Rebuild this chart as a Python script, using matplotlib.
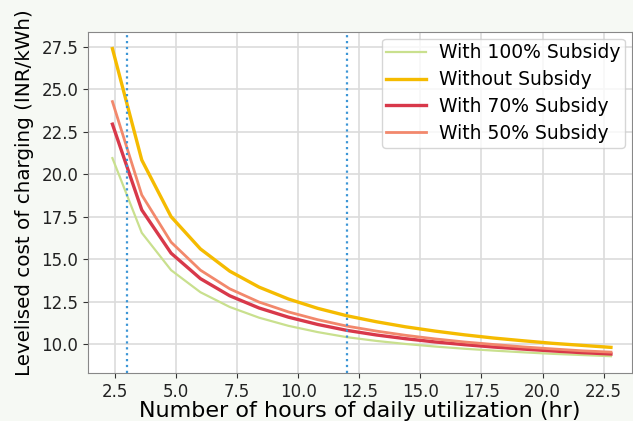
import matplotlib
matplotlib.use("Agg")
import matplotlib.pyplot as plt

hours = [2.4, 3.6, 4.8, 6.0, 7.2, 8.4, 9.6, 10.8, 12.0, 13.2, 14.4, 15.6,
         16.8, 18.0, 19.2, 20.4, 21.6, 22.8]

subsidy_100 = [20.95, 16.55, 14.35, 13.05, 12.18, 11.55, 11.07, 10.70, 10.40,
               10.18, 10.00, 9.85, 9.72, 9.61, 9.51, 9.42, 9.35, 9.28]
without_subsidy = [27.40, 20.84, 17.50, 15.60, 14.29, 13.35, 12.65, 12.10, 11.66,
                   11.31, 11.01, 10.76, 10.54, 10.35, 10.19, 10.04, 9.92, 9.80]
subsidy_70 = [22.95, 17.90, 15.35, 13.85, 12.84, 12.12, 11.58, 11.15, 10.80,
              10.53, 10.31, 10.12, 9.96, 9.82, 9.70, 9.59, 9.49, 9.41]
subsidy_50 = [24.28, 18.78, 16.00, 14.35, 13.25, 12.47, 11.89, 11.43, 11.05,
              10.76, 10.51, 10.30, 10.12, 9.97, 9.83, 9.71, 9.60, 9.52]

series_labels = ["With 100% Subsidy", "Without Subsidy", "With 70% Subsidy", "With 50% Subsidy"]
vlines_at = [3, 12]

fig = plt.figure(figsize=(6.33, 4.21), dpi=100, facecolor="#f6f9f4")
ax = fig.add_axes([0.139, 0.114, 0.859, 0.810])
ax.set_facecolor("white")

ax.plot(hours, subsidy_100, color="#c9e08e", lw=1.6, label=series_labels[0])
ax.plot(hours, without_subsidy, color="#f5bb00", lw=2.4, label=series_labels[1])
ax.plot(hours, subsidy_70, color="#d8384a", lw=2.4, label=series_labels[2])
ax.plot(hours, subsidy_50, color="#f2886c", lw=2.0, label=series_labels[3])

for v in vlines_at:
    ax.axvline(v, color="#3d96d6", lw=1.6, ls=":")

ax.set_xlim(1.40, 23.65)
ax.set_ylim(8.29, 28.38)
ax.set_xticks([2.5, 5.0, 7.5, 10.0, 12.5, 15.0, 17.5, 20.0, 22.5])
ax.set_yticks([10.0, 12.5, 15.0, 17.5, 20.0, 22.5, 25.0, 27.5])
ax.grid(True, color="#dcdcdc", lw=1.2)
ax.set_axisbelow(True)
for s in ax.spines.values():
    s.set_color("#888888")
ax.tick_params(labelsize=12, colors="#333333", length=3.5)
for lab in ax.get_xticklabels() + ax.get_yticklabels():
    lab.set_color("#222222")

ax.set_xlabel("Number of hours of daily utilization (hr)", fontsize=16, labelpad=0)
ax.set_ylabel("Levelised cost of charging (INR/kWh)", fontsize=14.3)
ax.yaxis.set_label_coords(-0.099, 0.53)

leg = ax.legend(loc="upper right", fontsize=13.5, handlelength=2.1,
                handletextpad=0.7, borderpad=0.25, labelspacing=0.42,
                framealpha=0.8, borderaxespad=0.35)

fig.savefig("out.png", dpi=100, facecolor=fig.get_facecolor())
